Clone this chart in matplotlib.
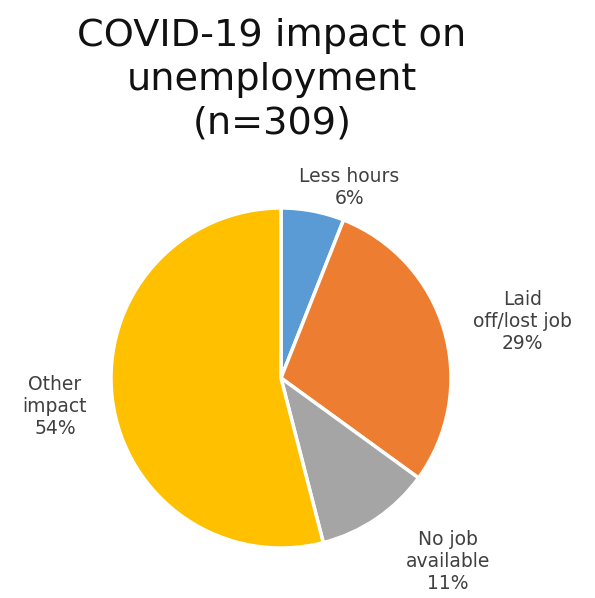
import matplotlib.pyplot as plt
import numpy as np

# survey answers (n=309)
categories = ["Less hours", "Laid\noff/lost job", "No job\navailable", "Other\nimpact"]
shares = [6, 29, 11, 54]
colors = ["#5B9BD5", "#ED7D31", "#A5A5A5", "#FFC000"]

# where each label sits: (distance from centre in radii, angle nudge in degrees)
label_place = [(1.19, -9), (1.46, -3), (1.46, 8), (1.34, 0)]

W, H = 595, 598
fig = plt.figure(figsize=(W / 100, H / 100), dpi=100)
plt.rcParams['font.family'] = ['DejaVu Sans']

# pie centre (281, 378) px from top-left, radius 170 px
cx, cy, r = 281, 378, 170
ax = fig.add_axes([(cx - r) / W, (H - cy - r) / H, 2 * r / W, 2 * r / H])
wedges, _ = ax.pie(shares, colors=colors, startangle=90, counterclock=False,
                   radius=1, wedgeprops=dict(edgecolor="white", linewidth=2.5))
ax.set_xlim(-1, 1)
ax.set_ylim(-1, 1)
ax.set_aspect("equal")
ax.axis("off")

for w, cat, val, (dist, nudge) in zip(wedges, categories, shares, label_place):
    mid = np.deg2rad((w.theta1 + w.theta2) / 2 + nudge)
    ax.text(dist * np.cos(mid), dist * np.sin(mid), f"{cat}\n{val}%",
            ha="center", va="center", fontsize=13.5, color="#404040",
            linespacing=1.2, clip_on=False)

fig.text(272 / W, 1 - 80 / H, "COVID-19 impact on\nunemployment\n(n=309)",
         ha="center", va="center", fontsize=27.5, color="#111111", linespacing=1.27)

fig.savefig("out.png", dpi=100, facecolor="white")
